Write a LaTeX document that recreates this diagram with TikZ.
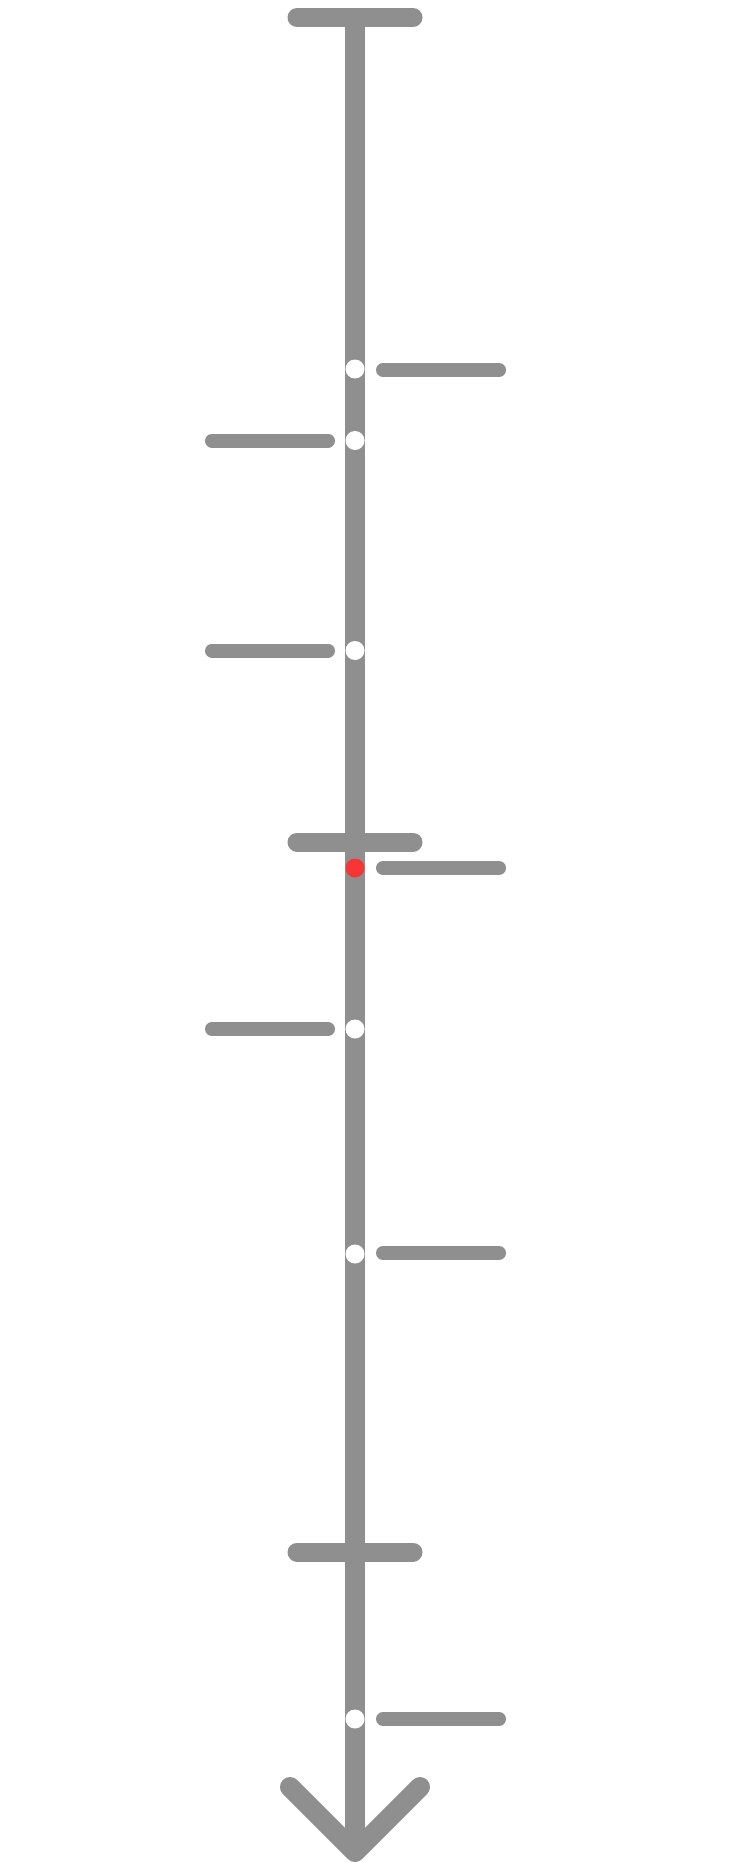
\documentclass[tikz,border=0pt]{standalone}
\definecolor{tlgray}{HTML}{8F8F8F}
\definecolor{tlred}{HTML}{F83535}
\begin{document}
\begin{tikzpicture}[x=1pt,y=-1pt,
  axis/.style={draw=tlgray,line width=20pt},
  bar/.style={draw=tlgray,line width=19pt,line cap=round},
  stub/.style={draw=tlgray,line width=14pt,line cap=round},
  dot/.style={circle,fill=white,minimum size=19pt,inner sep=0pt},
  reddot/.style={circle,fill=tlred,minimum size=19pt,inner sep=0pt},
  arrowhead/.style={draw=tlgray,line width=20pt,line cap=round,line join=round}]
\useasboundingbox[fill=white] (0,0) rectangle (748,1862);
% axis
\coordinate (top) at (355,17.5);
\coordinate (tip) at (355,1852);
\coordinate (la) at (290,1787);
\coordinate (ra) at (420,1787);
\draw[axis] (top) -- (tip);
% bars
\coordinate (b1l) at (297,17.5); \coordinate (b1r) at (413,17.5);
\coordinate (b2l) at (297,842); \coordinate (b2r) at (413,842);
\coordinate (b3l) at (297,1552); \coordinate (b3r) at (413,1552);
\draw[bar] (b1l) -- (b1r);
\draw[bar] (b2l) -- (b2r);
\draw[bar] (b3l) -- (b3r);
% arrow head
\draw[arrowhead] (la) -- (tip) -- (ra);
% dots
\node[dot] (d1) at (355,369) {};
\node[dot] (d2) at (355,440.5) {};
\node[dot] (d3) at (355,650.5) {};
\node[reddot] (d4) at (355,868) {};
\node[dot] (d5) at (355,1029) {};
\node[dot] (d6) at (355,1254) {};
\node[dot] (d7) at (355,1719) {};
% stubs
\coordinate (s1a) at (383,370); \coordinate (s1b) at (499,370);
\coordinate (s2a) at (212,440.5); \coordinate (s2b) at (328,440.5);
\coordinate (s3a) at (212,650.5); \coordinate (s3b) at (328,650.5);
\coordinate (s4a) at (383,868); \coordinate (s4b) at (499,868);
\coordinate (s5a) at (212,1029); \coordinate (s5b) at (328,1029);
\coordinate (s6a) at (383,1253); \coordinate (s6b) at (499,1253);
\coordinate (s7a) at (383,1719); \coordinate (s7b) at (499,1719);
\foreach \s in {s1,s2,s3,s4,s5,s6,s7} {\draw[stub] (\s a) -- (\s b);}
\end{tikzpicture}
\end{document}
